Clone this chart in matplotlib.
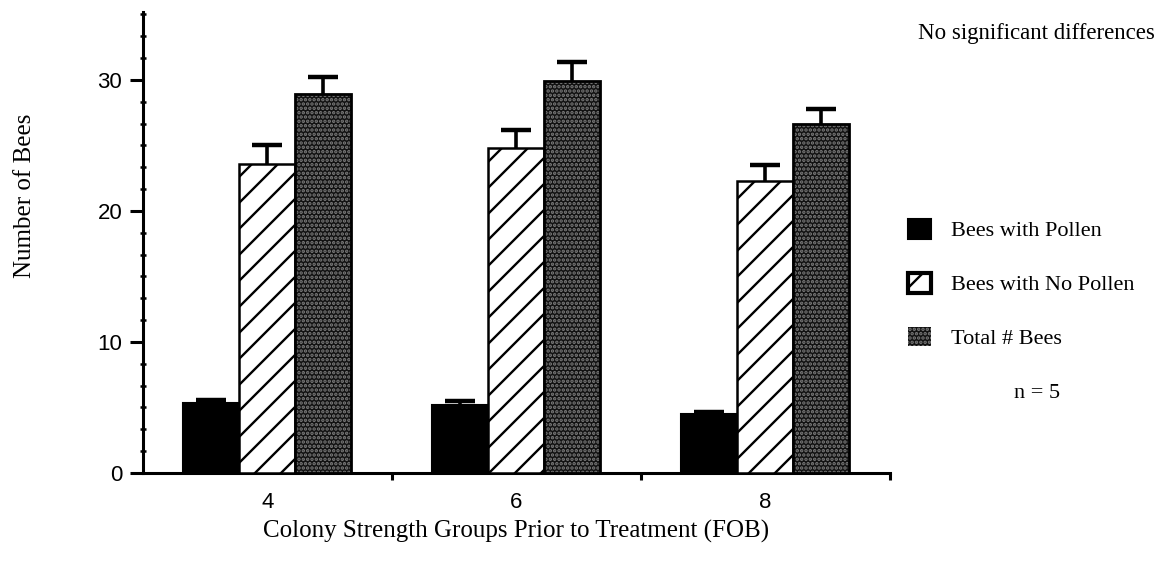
import matplotlib
matplotlib.use("Agg")
import matplotlib.pyplot as plt
from matplotlib.patches import Patch
from matplotlib.ticker import MultipleLocator, FixedLocator, NullFormatter
import numpy as np

groups = ["4", "6", "8"]
series_names = ["Bees with Pollen", "Bees with No Pollen", "Total # Bees"]
pollen = [5.3, 5.2, 4.5]
pollen_err = [0.3, 0.3, 0.15]
no_pollen = [23.6, 24.8, 22.3]
no_pollen_err = [1.4, 1.4, 1.2]
total = [28.9, 29.9, 26.6]
total_err = [1.3, 1.5, 1.2]

DPI = 78
S = 100.0 / DPI  # sizes below are given as if at 100 dpi

plt.rcParams['hatch.linewidth'] = 1.7 * S
serif = ['Liberation Serif', 'DejaVu Serif']
sans = ['Liberation Sans', 'DejaVu Sans']

fig = plt.figure(figsize=(1163 / DPI, 561 / DPI), dpi=DPI)
ax = fig.add_axes([0.123, 0.157, 0.642, 0.822])

x = np.arange(len(groups))
w = 0.225
DOT_FACE = '#121212'
DOT_COLOR = '#7c7c7c'

ax.bar(x - w, pollen, w, color='black', edgecolor='black', linewidth=1.5 * S, zorder=3)
ax.bar(x, no_pollen, w, color='white', edgecolor='black', linewidth=1.8 * S, hatch='/',
       zorder=3)
ax.bar(x + w, total, w, color=DOT_FACE, edgecolor=DOT_COLOR, linewidth=0, hatch='...',
       zorder=3)
ax.bar(x + w, total, w, fill=False, edgecolor='black', linewidth=2.0 * S, zorder=4)

for xs, vals, errs in [(x - w, pollen, pollen_err), (x, no_pollen, no_pollen_err),
                       (x + w, total, total_err)]:
    eb = ax.errorbar(xs, vals, yerr=[np.zeros(len(vals)), errs], fmt='none',
                     ecolor='black', elinewidth=2.6 * S, capsize=10.8 * S,
                     capthick=3.2 * S, zorder=5)
    caps = eb[1]
    if len(caps) >= 2:
        caps[0].set_visible(False)

ax.set_xlim(-0.5, 2.5)
ax.set_ylim(0, 35.2)
for s in ['top', 'right']:
    ax.spines[s].set_visible(False)
for s in ['left', 'bottom']:
    ax.spines[s].set_linewidth(2.2 * S)

ax.set_xticks(x)
ax.set_xticklabels(groups, family=sans, fontsize=16 * S)
ax.xaxis.set_minor_locator(FixedLocator([0.5, 1.5, 2.5]))
ax.tick_params(axis='x', which='major', length=0, pad=14 * S)
ax.tick_params(axis='x', which='minor', length=5 * S, width=2.2 * S, direction='out')

ax.set_yticks([0, 10, 20, 30])
ax.set_yticklabels(['0', '10', '20', '30'], family=sans, fontsize=16 * S)
ax.yaxis.set_minor_locator(MultipleLocator(10 / 6))
ax.yaxis.set_minor_formatter(NullFormatter())
ax.tick_params(axis='y', which='major', length=9 * S, width=2.2 * S, direction='out',
               pad=6 * S)
ax.tick_params(axis='y', which='minor', length=5 * S, width=1.8 * S, direction='inout')

ax.set_xlabel("Colony Strength Groups Prior to Treatment (FOB)", family=serif,
              fontsize=18 * S, labelpad=5 * S)
ax.set_ylabel("Number of Bees", family=serif, fontsize=18 * S)
ax.yaxis.set_label_coords(-0.143, 0.60)

handles = [Patch(facecolor='black', edgecolor='black', linewidth=1.5 * S),
           Patch(facecolor='white', edgecolor='black', hatch='/', linewidth=3 * S),
           Patch(facecolor=DOT_FACE, edgecolor=DOT_COLOR, hatch='...', linewidth=0)]
fig.legend(handles, series_names, loc='upper left', bbox_to_anchor=(0.781, 0.610),
           frameon=False, prop={'family': serif, 'size': 16 * S}, handlelength=1.0,
           handleheight=1.0, labelspacing=1.41, handletextpad=0.9,
           borderpad=0, borderaxespad=0)

fig.text(0.8917, 0.299, "n = 5", family=serif, fontsize=16 * S, ha='center',
         va='center')
fig.text(0.891, 0.940, "No significant differences", family=serif, fontsize=16.5 * S,
         ha='center', va='center')

fig.savefig("out.png", dpi=DPI)
